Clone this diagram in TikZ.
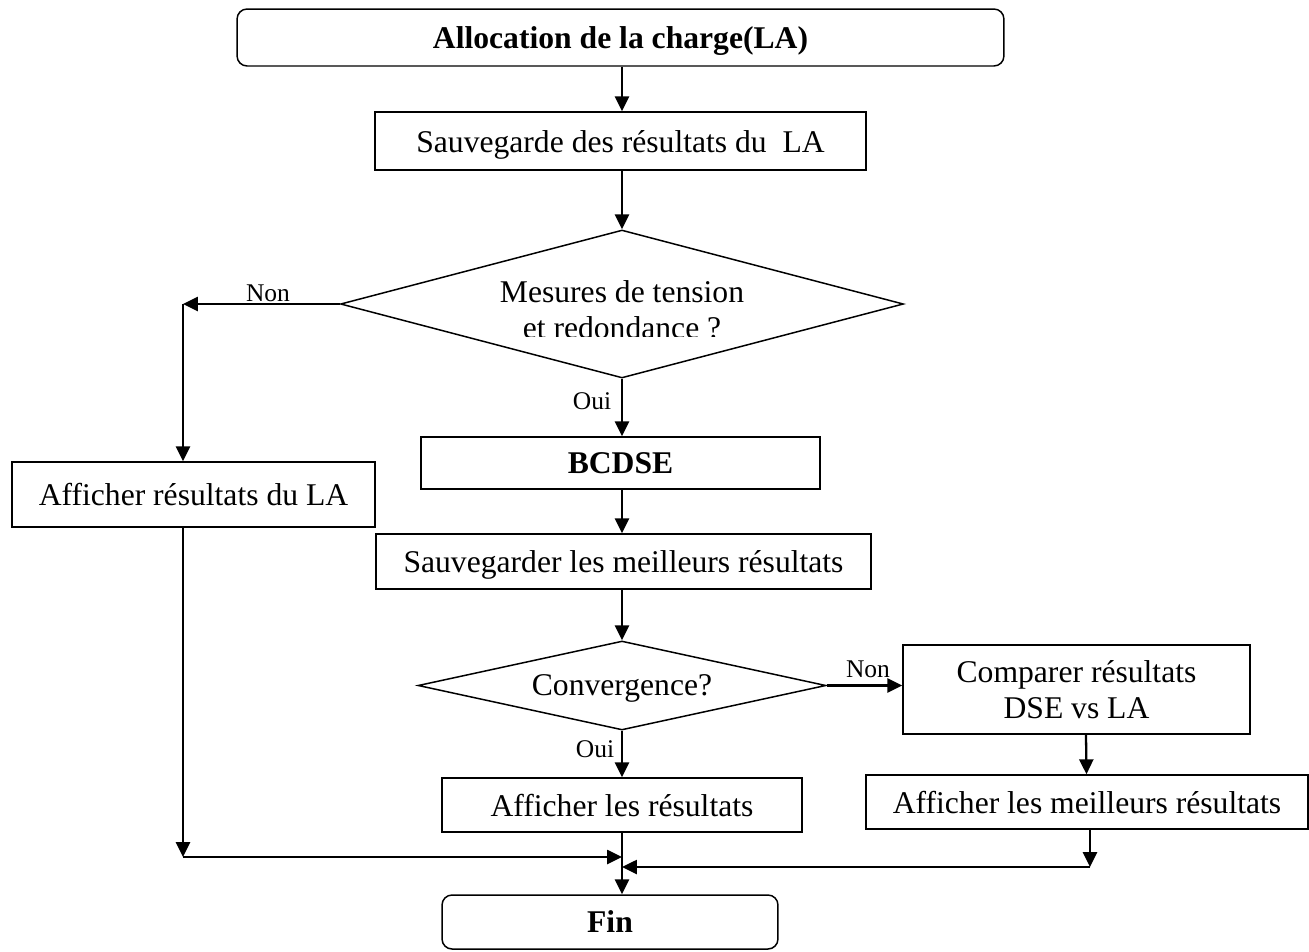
\documentclass[tikz,border=0pt]{standalone}
\usepackage{fontspec}
\setmainfont{Liberation Serif}
\usetikzlibrary{shapes.geometric,arrows.meta}

\begin{document}
\begin{tikzpicture}[x=0.02cm, y=-0.02cm,
  box/.style={draw, line width=0.85pt, inner sep=0pt, align=center, font=\fontsize{18}{20.5}\selectfont},
  proc/.style={box, text depth=0pt},
  term/.style={proc, rounded corners=0.2cm, font=\fontsize{18}{20.5}\selectfont\bfseries},
  decision/.style={draw, diamond, aspect=4.5, line width=0.85pt, inner sep=0pt, text depth=0pt, font=\fontsize{18}{20.5}\selectfont},
  lbl/.style={inner sep=0pt, text depth=0pt, font=\fontsize{14.5}{16}\selectfont},
  arr/.style={line width=1.3pt, -{Triangle[length=8.5pt,width=8pt]}}]
% Fix the page size
\useasboundingbox (0,0) rectangle (1309,951);

% Start and first save
\node[term, minimum width=15.34cm, minimum height=1.14cm] (alloc) at (620.5,37.5) {Allocation de la charge(LA)};
\node[proc, minimum width=9.82cm, minimum height=1.16cm] (sauv) at (620.5,141) {Sauvegarde des résultats du\ \ LA};

% First test
\node[decision, minimum width=11.26cm, minimum height=2.96cm] (dec1) at (622,304) {};
\begin{scope}
\clip (340,230) rectangle (903,336);
\node[box, draw=none] (dec1txt) at (622,310) {Mesures de tension\\et redondance ?};
\end{scope}

% Left branch and main column
\node[proc, minimum width=7.26cm, minimum height=1.3cm] (affLA) at (193.5,494.5) {Afficher résultats du LA};
\node[proc, minimum width=7.98cm, minimum height=1.04cm, font=\fontsize{18}{20.5}\selectfont\bfseries] (bcdse) at (620.5,463) {BCDSE};
\node[proc, minimum width=9.9cm, minimum height=1.1cm] (best) at (623.5,561.5) {Sauvegarder les meilleurs résultats};

% Second test
\node[decision, minimum width=8.16cm, minimum height=1.78cm] (dec2) at (622,685.5) {Convergence?};
\node[box, minimum width=6.94cm, minimum height=1.78cm] (comp) at (1076.5,689.5) {Comparer résultats\\DSE vs LA};
\node[proc, minimum width=7.2cm, minimum height=1.08cm] (affres) at (622,805) {Afficher les résultats};
\node[proc, minimum width=8.84cm, minimum height=1.08cm] (affbest) at (1087,802) {Afficher les meilleurs résultats};
\node[term, minimum width=6.72cm, minimum height=1.08cm] (fin) at (610,922) {Fin};

% Branch labels
\node[lbl] (non1) at (268,293.5) {Non};
\node[lbl] (oui1) at (592,401.5) {Oui};
\node[lbl] (non2) at (868,669.5) {Non};
\node[lbl] (oui2) at (595,749.5) {Oui};

% Corners of the connectors
\coordinate (cLA) at (183,304);
\coordinate (jl) at (183,857);
\coordinate (jr) at (1090,867);

% Connectors
\draw[arr] (alloc.south -| dec1) -- (sauv.north -| dec1);
\draw[arr] (sauv.south -| dec1) -- (dec1.north);
\draw[arr] (dec1.west) -- (cLA);
\draw[arr] (cLA) -- (cLA |- affLA.north);
\draw[arr] (dec1.south) -- (bcdse.north -| dec1);
\draw[arr] (bcdse.south -| dec1) -- (best.north -| dec1);
\draw[arr] (best.south -| dec1) -- (dec2.north);
\draw[arr] (dec2.east) -- (comp.west |- dec2);
\draw[arr] (dec2.south) -- (affres.north);
\draw[arr] ([xshift=0.19cm]comp.south) -- ([xshift=-0.01cm]affbest.north);
\draw[arr] (cLA |- affLA.south) -- (jl);
\draw[arr] (jl) -- (jl -| affres.south);
\draw[arr] (jr |- affbest.south) -- (jr);
\draw[arr] (jr) -- (jr -| affres.south);
\draw[arr] (affres.south) -- (affres.south |- fin.north);
\end{tikzpicture}
\end{document}
